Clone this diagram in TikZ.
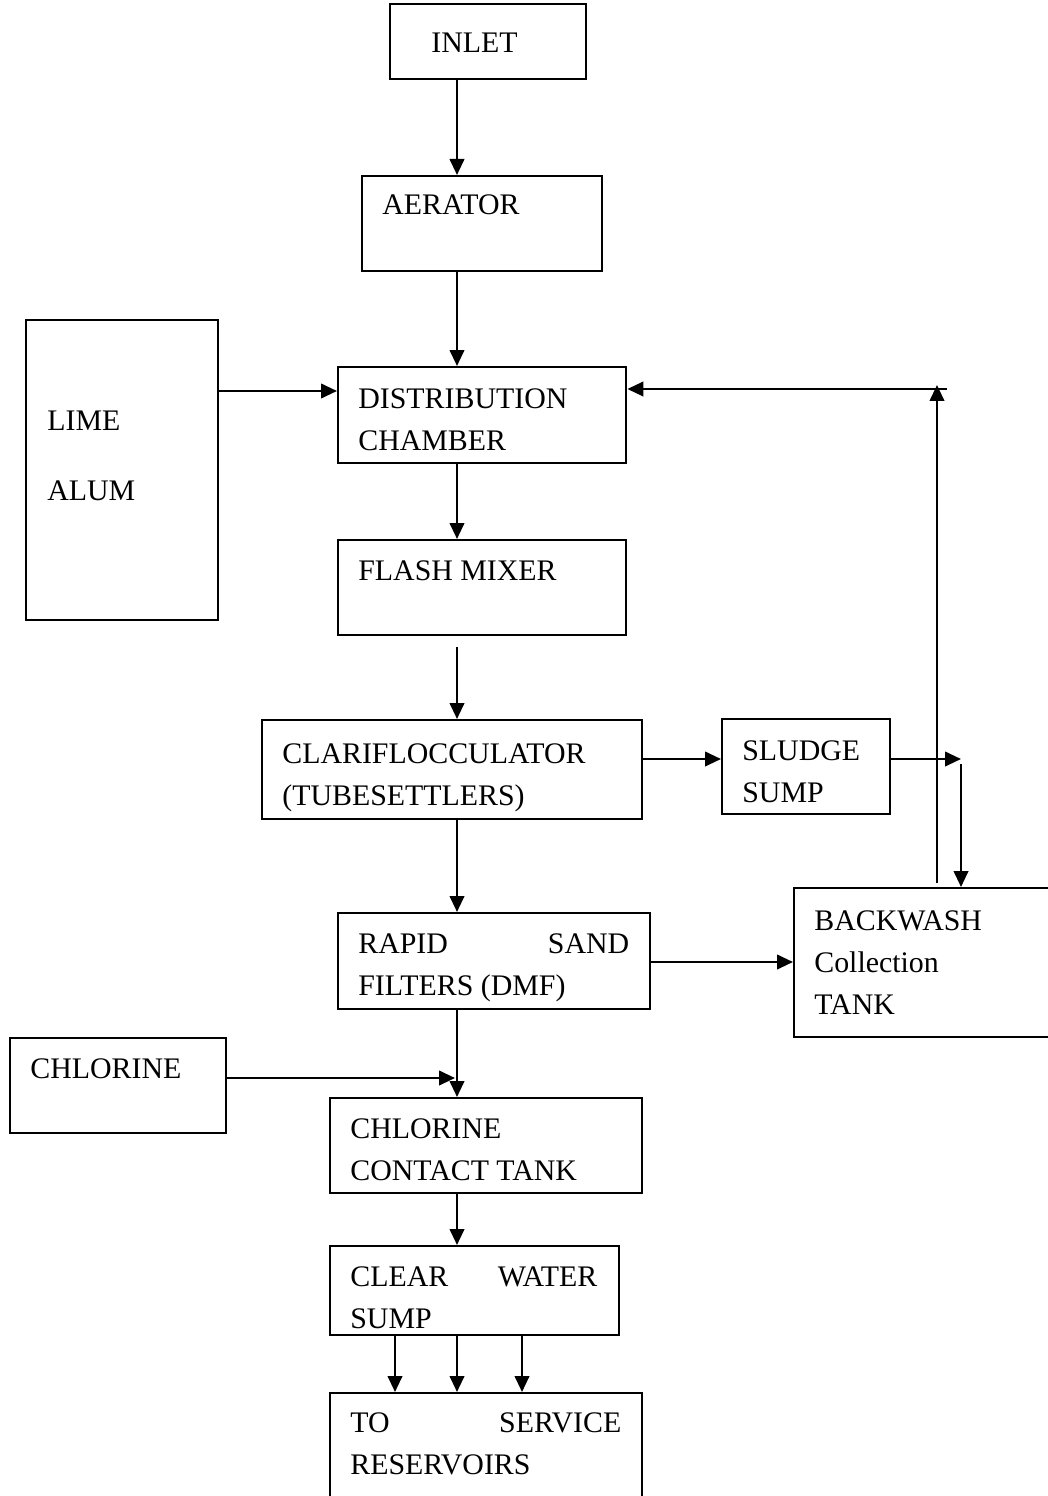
\documentclass[tikz,border=0pt]{standalone}
\usepackage{fontspec}
\setmainfont{Liberation Serif}
\usetikzlibrary{arrows.meta}

\begin{document}
\begin{tikzpicture}[x=0.02cm,y=-0.02cm,
        box/.style={draw,line width=1.4pt,inner sep=0pt,anchor=north west},
        txt/.style={anchor=base west,inner sep=0pt,align=left,font=\fontsize{17}{23.8}\selectfont},
        flow/.style={line width=1.4pt,-{Triangle[length=0.32cm,width=0.29cm]}}]
        \useasboundingbox (0,0) rectangle (1047,1496);
        \coordinate (spine) at (457,0);

        % 方框
        \node[box,minimum width=3.92cm,minimum height=1.5cm] (inlet) at (389,3) {};
        \node[box,minimum width=4.8cm,minimum height=1.9cm] (aerator) at (361,175) {};
        \node[box,minimum width=3.84cm,minimum height=6cm] (lime) at (25,319) {};
        \node[box,minimum width=5.76cm,minimum height=1.92cm] (dist) at (337,366) {};
        \node[box,minimum width=5.76cm,minimum height=1.9cm] (flash) at (337,539) {};
        \node[box,minimum width=7.6cm,minimum height=1.98cm] (clari) at (261,719) {};
        \node[box,minimum width=3.36cm,minimum height=1.9cm] (sludge) at (721,718) {};
        \node[box,minimum width=5.4cm,minimum height=2.98cm] (backwash) at (793,887) {};
        \node[box,minimum width=6.24cm,minimum height=1.92cm] (rapid) at (337,912) {};
        \node[box,minimum width=4.32cm,minimum height=1.9cm] (chlor) at (9,1037) {};
        \node[box,minimum width=6.24cm,minimum height=1.9cm] (contact) at (329,1097) {};
        \node[box,minimum width=5.78cm,minimum height=1.78cm] (clear) at (329,1245) {};
        \node[box,minimum width=6.24cm,minimum height=2.6cm] (service) at (329,1392) {};

        % 文字（多行时以末行基线定位）
        \node[txt] (t-inlet) at (431,53) {INLET};
        \node[txt] (t-aerator) at (382,215) {AERATOR};
        \node[txt] (t-lime) at (47,430) {LIME};
        \node[txt] (t-alum) at (47,500) {ALUM};
        \node[txt] (t-dist) at (358,450) {DISTRIBUTION\\CHAMBER};
        \node[txt] (t-flash) at (358,580) {FLASH MIXER};
        \node[txt] (t-clari) at (282,805) {CLARIFLOCCULATOR\\(TUBESETTLERS)};
        \node[txt] (t-sludge) at (742,802) {SLUDGE\\SUMP};
        \node[txt] (t-backwash) at (814,1014) {BACKWASH\\Collection\\TANK};
        \node[txt] (t-rapid) at (358,995) {\makebox[5.42cm]{RAPID\hfill SAND}\\FILTERS (DMF)};
        \node[txt] (t-chlor) at (30,1078) {CHLORINE};
        \node[txt] (t-contact) at (350,1180) {CHLORINE\\CONTACT TANK};
        \node[txt] (t-clear) at (350,1328) {\makebox[4.94cm]{CLEAR\hfill WATER}\\SUMP};
        \node[txt] (t-service) at (350,1474) {\makebox[5.42cm]{TO\hfill SERVICE}\\RESERVOIRS};

        % 主流程
        \draw[flow] (inlet.south -| spine) -- (aerator.north -| spine);
        \draw[flow] (aerator.south -| spine) -- (dist.north -| spine);
        \draw[flow] (lime.east |- 0,391) -- (dist.west |- 0,391);
        \draw[flow] (dist.south -| spine) -- (flash.north -| spine);
        \draw[flow] ([yshift=-0.22cm]flash.south -| spine) -- (clari.north -| spine);
        \draw[flow] (clari.south -| spine) -- (rapid.north -| spine);
        \draw[flow] (rapid.south -| spine) -- (contact.north -| spine);
        \draw[flow] (chlor.east |- 0,1078) -- (455,1078);
        \draw[flow] (contact.south -| spine) -- (clear.north -| spine);
        \foreach \x in {395,457,522}
          \draw[flow] (clear.south -| \x,0) -- (service.north -| \x,0);

        % 污泥与反冲洗回流
        \draw[flow] (clari.east |- 0,759) -- (sludge.west |- 0,759);
        \draw[flow] (sludge.east |- 0,759) -- (961,759);
        \draw[flow] (961,764) -- (backwash.north -| 961,0);
        \draw[flow] (rapid.east |- 0,962) -- (backwash.west |- 0,962);
        \draw[flow] (937,883) -- (937,385);
        \draw[flow] (947,389) -- (dist.east |- 0,389);
      \end{tikzpicture}
\end{document}
